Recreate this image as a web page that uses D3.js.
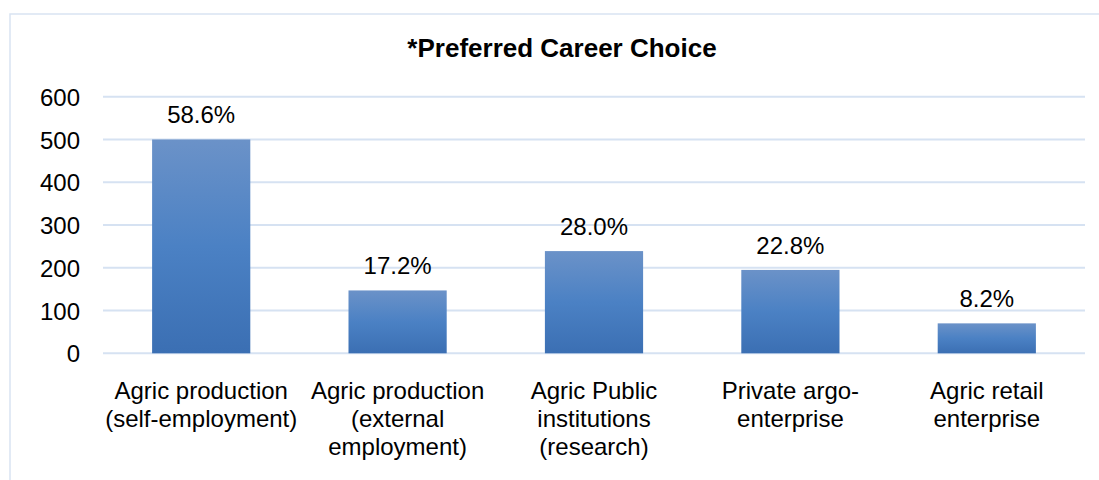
<!DOCTYPE html>
<html>
<head>
<meta charset="utf-8">
<script src="https://cdn.jsdelivr.net/npm/d3@7"></script>
<style>
  body { margin: 0; background: #fff; }
  svg { display: block; font-family: Arial, "Liberation Sans", sans-serif; }
</style>
</head>
<body>
<svg id="svg1" width="1099" height="480"></svg>
<script>
// chart data
var categories = [
    ['Agric production', '(self-employment)'],
    ['Agric production', '(external', 'employment)'],
    ['Agric Public', 'institutions', '(research)'],
    ['Private argo-', 'enterprise'],
    ['Agric retail', 'enterprise']
];
var counts = [500, 147, 239, 195, 70];
var percentLabels = ['58.6%', '17.2%', '28.0%', '22.8%', '8.2%'];
var yTicks = [0, 100, 200, 300, 400, 500, 600];

var width = document.getElementById('svg1').clientWidth;
var height = document.getElementById('svg1').clientHeight;

var svg = d3.select('svg');

// chart area border (right/bottom sides run off the picture)
svg.append('path')
    .attr('d', 'M10,' + (height + 2) + 'V14H' + (width + 2))
    .attr('fill', 'none')
    .attr('stroke', '#d9e4f2')
    .attr('stroke-width', 1.5);

var defs = svg.append('defs');
var grad = defs.append('linearGradient')
    .attr('id', 'barGrad')
    .attr('x1', 0).attr('y1', 0).attr('x2', 0).attr('y2', 1);
grad.append('stop').attr('offset', '0%').attr('stop-color', '#6b92c8');
grad.append('stop').attr('offset', '50%').attr('stop-color', '#4b81c4');
grad.append('stop').attr('offset', '100%').attr('stop-color', '#3b6fb3');

var x = d3.scaleBand()
    .domain(d3.range(categories.length))
    .range([103, 1085])
    .paddingInner(0.5)
    .paddingOuter(0.25);

var y = d3.scaleLinear()
    .domain([0, 600])
    .range([353.3, 96.7]);

// title
svg.append('text')
    .attr('x', 562)
    .attr('y', 57)
    .attr('text-anchor', 'middle')
    .attr('font-size', 26)
    .attr('font-weight', 'bold')
    .attr('fill', '#000')
    .text('*Preferred Career Choice');

// gridlines
svg.append('g')
    .selectAll('line')
    .data(yTicks)
    .enter()
    .append('line')
    .attr('x1', 103)
    .attr('x2', 1085)
    .attr('y1', function(d){ return y(d); })
    .attr('y2', function(d){ return y(d); })
    .attr('stroke', '#d6e2f2')
    .attr('stroke-width', 2);

// y axis labels
var yAxis = d3.axisLeft(y)
    .tickValues(yTicks)
    .tickSize(0)
    .tickPadding(0);

svg.append('g')
    .attr('transform', 'translate(80,0)')
    .call(yAxis)
    .call(function(g){
        g.select('.domain').remove();
        g.selectAll('text')
            .attr('font-size', 24)
            .attr('font-family', 'Arial, "Liberation Sans", sans-serif')
            .attr('fill', '#000')
            .attr('dy', '0.36em');
    });

// bars
svg.append('g')
    .selectAll('rect')
    .data(counts)
    .enter()
    .append('rect')
    .attr('x', function(d, i){ return x(i); })
    .attr('y', function(d){ return y(d); })
    .attr('width', x.bandwidth())
    .attr('height', function(d){ return y(0) - y(d); })
    .attr('fill', 'url(#barGrad)');

// value labels
svg.append('g')
    .selectAll('text')
    .data(counts)
    .enter()
    .append('text')
    .attr('x', function(d, i){ return x(i) + x.bandwidth() / 2; })
    .attr('y', function(d){ return y(d) - 16; })
    .attr('text-anchor', 'middle')
    .attr('font-size', 24)
    .attr('fill', '#000')
    .text(function(d, i){ return percentLabels[i]; });

// category labels
var catG = svg.append('g')
    .selectAll('text')
    .data(categories)
    .enter()
    .append('text')
    .attr('text-anchor', 'middle')
    .attr('font-size', 24)
    .attr('fill', '#000')
    .attr('transform', function(d, i){
        return 'translate(' + (x(i) + x.bandwidth() / 2) + ',399)';
    });

catG.selectAll('tspan')
    .data(function(d){ return d; })
    .enter()
    .append('tspan')
    .attr('x', 0)
    .attr('y', function(d, j){ return j * 28; })
    .text(function(d){ return d; });
</script>
</body>
</html>
